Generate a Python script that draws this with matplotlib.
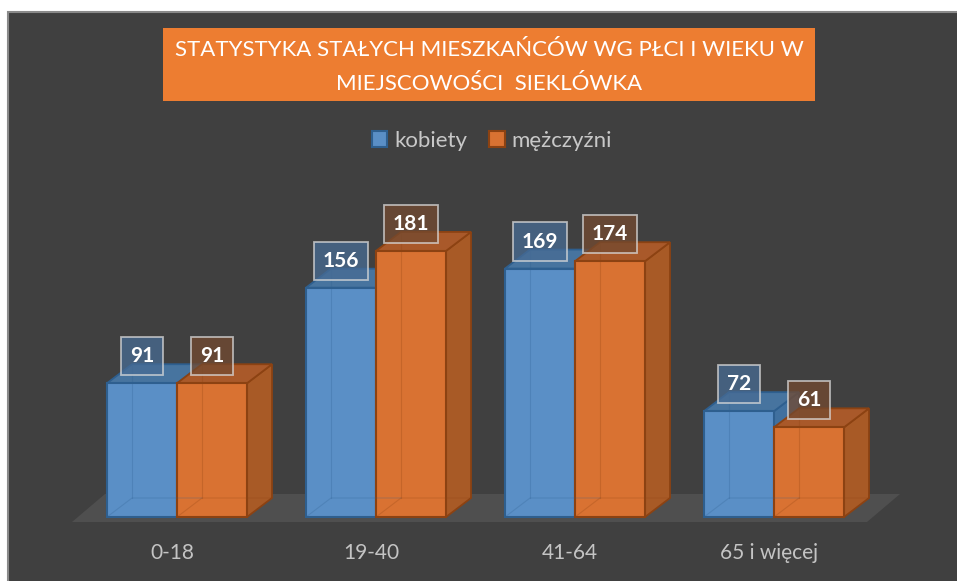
import matplotlib
matplotlib.use("Agg")
import matplotlib.pyplot as plt
from matplotlib.patches import Polygon, Rectangle, Patch

plt.rcParams["font.family"] = ["Lato", "DejaVu Sans"]

categories = ["0-18", "19-40", "41-64", "65 i więcej"]
kobiety = [91, 156, 169, 72]
mezczyzni = [91, 181, 174, 61]
series_names = ["kobiety", "mężczyźni"]
title_lines = ["STATYSTYKA STAŁYCH MIESZKAŃCÓW WG PŁCI I WIEKU W",
               "MIEJSCOWOŚCI  SIEKLÓWKA"]

W, H = 957, 581
# pixel geometry of the plot area
X0_PX, STEP_PX = 177, 199      # center of first group, group spacing
Y0_PX, PX_PER_UNIT = 517, 1.47  # baseline and vertical scale

BAR_W = 70 / STEP_PX
DX = 25 / STEP_PX
DV = 19 / PX_PER_UNIT

BG = "#404040"
FRONT = ["#5a8fc6", "#d97232"]
SIDE = ["#40709f", "#a85a26"]
TOP = ["#47749f", "#a9592a"]
EDGE = ["#2e5f8f", "#8c4212"]
BOX = [(0.28, 0.42, 0.58, 0.75), (0.45, 0.29, 0.19, 0.75)]


def draw_bar(ax, x0, h, k):
    w = BAR_W
    side = Polygon([(x0 + w, 0), (x0 + w + DX, DV), (x0 + w + DX, h + DV),
                    (x0 + w, h)], closed=True, facecolor=SIDE[k],
                   edgecolor=EDGE[k], lw=1.3, zorder=3)
    top = Polygon([(x0, h), (x0 + w, h), (x0 + w + DX, h + DV),
                   (x0 + DX, h + DV)], closed=True, facecolor=TOP[k],
                  edgecolor=EDGE[k], lw=1.3, zorder=3)
    front = Rectangle((x0, 0), w, h, facecolor=FRONT[k],
                      edgecolor=EDGE[k], lw=1.5, zorder=3)
    for p in (side, top, front):
        ax.add_patch(p)
    # faint hidden edges seen through the front face
    ax.plot([x0 + DX, x0 + DX], [DV, h + DV], color=EDGE[k], lw=0.8,
            alpha=0.25, zorder=4)
    ax.plot([x0, x0 + DX, x0 + w + DX], [0, DV, DV], color=EDGE[k], lw=0.8,
            alpha=0.25, zorder=4)


fig = plt.figure(figsize=(W / 100, H / 100), dpi=100, facecolor="white")
fig.patches.append(Rectangle((8 / W, -0.01), 1.0, 1 - 12 / H + 0.01,
                             transform=fig.transFigure, facecolor=BG,
                             edgecolor="#8a8a8a", lw=1.5, zorder=-1))

ax = fig.add_axes([0, 0, 1, 1])
ax.set_facecolor("none")
ax.set_xlim(-X0_PX / STEP_PX, (W - X0_PX) / STEP_PX)
ax.set_ylim((Y0_PX - H) / PX_PER_UNIT, Y0_PX / PX_PER_UNIT)
ax.axis("off")

# floor
fx0, fx1 = -105 / STEP_PX, 690 / STEP_PX
fdx, fdv = 33 / STEP_PX, 28 / PX_PER_UNIT
fv = -5 / PX_PER_UNIT
ax.add_patch(Polygon([(fx0, fv), (fx1, fv), (fx1 + fdx, fv + fdv),
                      (fx0 + fdx, fv + fdv)], closed=True,
                     facecolor="#4f4f4f", edgecolor="none", zorder=1))

for i, cat in enumerate(categories):
    for k, vals in enumerate([kobiety, mezczyzni]):
        x0 = i - BAR_W + k * BAR_W
        draw_bar(ax, x0, vals[i], k)
    ax.text(i - 0.025, -24.5, cat, ha="center", va="center",
            fontsize=15, color="#c4c4c4")

for i in range(len(categories)):
    for k, vals in enumerate([kobiety, mezczyzni]):
        xc = i - BAR_W / 2 + k * BAR_W
        ax.text(xc, vals[i] + 27 / PX_PER_UNIT, str(vals[i]), ha="center",
                va="center", fontsize=15, fontweight="bold", color="white",
                zorder=6,
                bbox=dict(boxstyle="square,pad=0.44", facecolor=BOX[k],
                          edgecolor=(0.85, 0.85, 0.85, 0.75), lw=1.3))

# title box
fig.patches.append(Rectangle((163 / W, 1 - 101 / H), 652 / W, 73 / H,
                             transform=fig.transFigure, facecolor="#ed7d31",
                             edgecolor="none", zorder=1))
fig.text(489 / W, 1 - 50 / H, title_lines[0], ha="center", va="center",
         fontsize=16, color="white")
fig.text(489 / W, 1 - 84 / H, title_lines[1], ha="center", va="center",
         fontsize=16, color="white")

handles = [Patch(facecolor=FRONT[k], edgecolor=EDGE[k], lw=1.5)
           for k in range(2)]
leg = ax.legend(handles, series_names, ncol=2, loc="center",
                bbox_to_anchor=(492 / W, 1 - 141 / H),
                bbox_transform=fig.transFigure, frameon=False, fontsize=16,
                handlelength=0.7, handleheight=0.7, handletextpad=0.3,
                columnspacing=1.0, labelcolor="#c8c8c8")

fig.savefig("out.png", dpi=100, facecolor=fig.get_facecolor())
